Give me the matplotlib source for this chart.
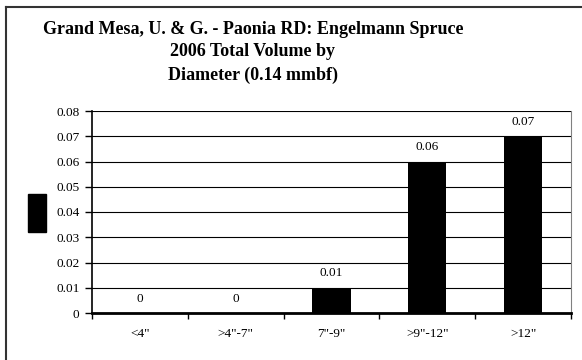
import matplotlib
matplotlib.use("Agg")
import matplotlib.pyplot as plt
from matplotlib.patches import Rectangle
from matplotlib.lines import Line2D

# dados do gráfico
categorias = ['<4"', '>4"-7"', '7"-9"', '>9"-12"', '>12"']
volumes = [0, 0, 0.01, 0.06, 0.07]
rotulos = ['0', '0', '0.01', '0.06', '0.07']
ticks_y = [0, 0.01, 0.02, 0.03, 0.04, 0.05, 0.06, 0.07, 0.08]
titulo = ['Grand Mesa, U. & G. - Paonia RD: Engelmann Spruce',
          '2006 Total Volume by',
          'Diameter (0.14 mmbf)']

plt.rcParams['font.family'] = ['Liberation Serif', 'DejaVu Serif']

fig = plt.figure(figsize=(5.82, 3.6), dpi=100)
ax = fig.add_axes([92 / 582, 47 / 360, 479 / 582, 202 / 360])

x = list(range(len(categorias)))
ax.bar(x, volumes, width=0.4, color='black', zorder=3)

for xi, v, r in zip(x, volumes, rotulos):
    ax.annotate(r, (xi, v), xytext=(0, 6), textcoords='offset points',
                ha='center', va='bottom', fontsize=9.5)

ax.set_xlim(-0.5, len(categorias) - 0.5)
ax.set_ylim(0, 0.08)
ax.set_yticks(ticks_y)
ax.set_yticklabels(['0' if t == 0 else f'{t:.2f}' for t in ticks_y], fontsize=9.5)
ax.set_xticks(x)
ax.set_xticklabels(categorias, fontsize=9.5)
ax.set_xticks([i - 0.5 for i in range(len(categorias) + 1)], minor=True)
ax.tick_params(axis='x', which='major', length=0, pad=11)
ax.tick_params(axis='x', which='minor', length=4, width=1, direction='out')
ax.tick_params(axis='y', length=5, width=1, direction='out', pad=4)

ax.grid(axis='y', color='black', linewidth=0.8, zorder=0)
ax.spines['top'].set_visible(False)
ax.spines['right'].set_color('#808080')
ax.spines['left'].set_linewidth(1.2)
ax.spines['bottom'].set_linewidth(2)

# título em três linhas
for i, linha in enumerate(titulo):
    fig.text(253 / 582, 1 - (29 + 23 * i) / 360, linha, ha='center', va='center',
             fontsize=13, fontweight='bold')

# caixa da legenda (só o marcador)
fig.patches.append(Rectangle((28 / 582, 128 / 360), 18 / 582, 38 / 360,
                             transform=fig.transFigure, color='black'))

# moldura externa
fig.lines.append(Line2D([6 / 582, 6 / 582], [0, 353 / 360], transform=fig.transFigure,
                        color='#333333', linewidth=1.5))
fig.lines.append(Line2D([6 / 582, 1], [353 / 360, 353 / 360], transform=fig.transFigure,
                        color='#333333', linewidth=1.5))

fig.savefig('out.png', dpi=100)
